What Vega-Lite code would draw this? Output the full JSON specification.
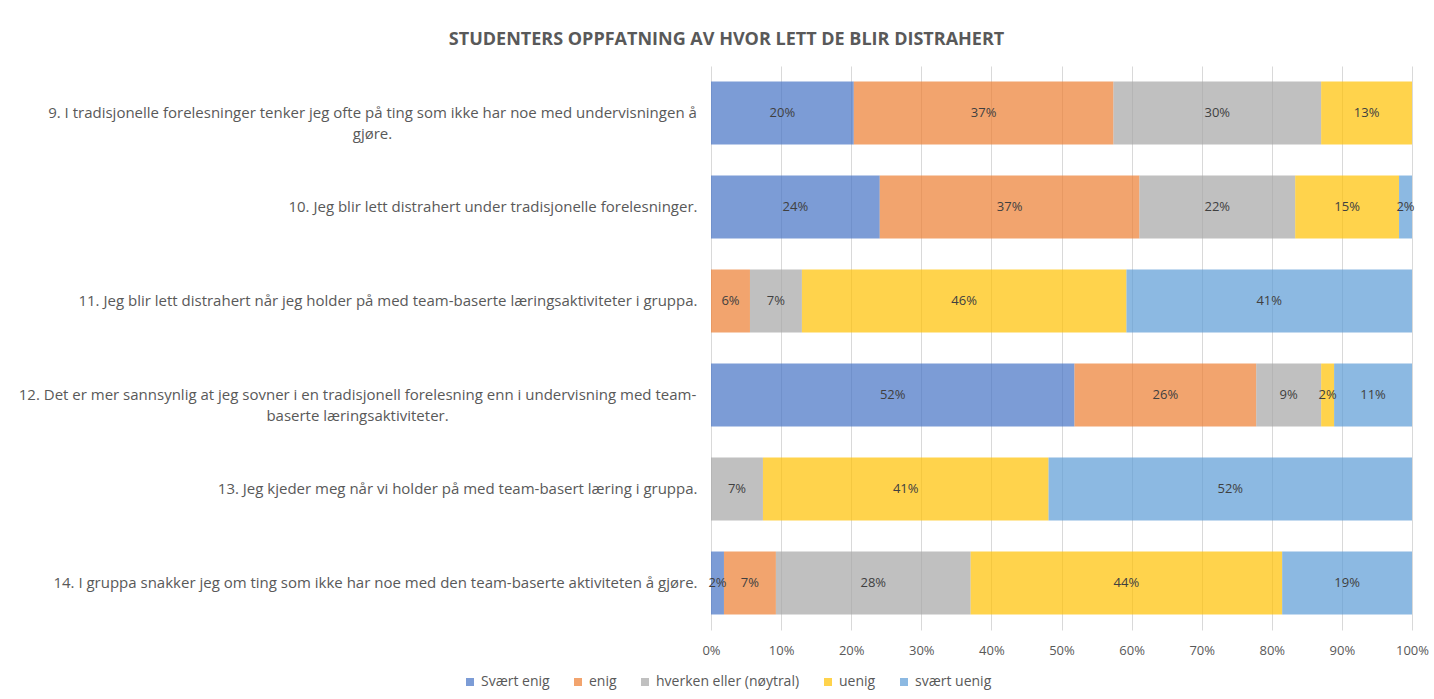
{
  "$schema": "https://vega.github.io/schema/vega-lite/v6.json",
  "autosize": {"type": "none"},
  "padding": {"left": 711, "top": 66, "right": 22, "bottom": 69},
  "width": 701,
  "height": 564,
  "background": "white",
  "title": {
    "text": "STUDENTERS OPPFATNING AV HVOR LETT DE BLIR DISTRAHERT",
    "font": "Open Sans",
    "fontSize": 18,
    "fontWeight": "bold",
    "color": "#595959",
    "anchor": "middle",
    "dx": -335,
    "offset": 17
  },
  "data": {
    "values": [
      {"q": "9. I tradisjonelle forelesninger tenker jeg ofte på ting som ikke har noe med undervisningen å|gjøre.", "cat": "Svært enig", "o": 1, "value": 0.2037},
      {"q": "9. I tradisjonelle forelesninger tenker jeg ofte på ting som ikke har noe med undervisningen å|gjøre.", "cat": "enig", "o": 2, "value": 0.3704},
      {"q": "9. I tradisjonelle forelesninger tenker jeg ofte på ting som ikke har noe med undervisningen å|gjøre.", "cat": "hverken eller (nøytral)", "o": 3, "value": 0.2963},
      {"q": "9. I tradisjonelle forelesninger tenker jeg ofte på ting som ikke har noe med undervisningen å|gjøre.", "cat": "uenig", "o": 4, "value": 0.1296},
      {"q": "10. Jeg blir lett distrahert under tradisjonelle forelesninger.", "cat": "Svært enig", "o": 1, "value": 0.2407},
      {"q": "10. Jeg blir lett distrahert under tradisjonelle forelesninger.", "cat": "enig", "o": 2, "value": 0.3704},
      {"q": "10. Jeg blir lett distrahert under tradisjonelle forelesninger.", "cat": "hverken eller (nøytral)", "o": 3, "value": 0.2222},
      {"q": "10. Jeg blir lett distrahert under tradisjonelle forelesninger.", "cat": "uenig", "o": 4, "value": 0.1481},
      {"q": "10. Jeg blir lett distrahert under tradisjonelle forelesninger.", "cat": "svært uenig", "o": 5, "value": 0.0185},
      {"q": "11. Jeg blir lett distrahert når jeg holder på med team-baserte læringsaktiviteter i gruppa.", "cat": "enig", "o": 2, "value": 0.0556},
      {"q": "11. Jeg blir lett distrahert når jeg holder på med team-baserte læringsaktiviteter i gruppa.", "cat": "hverken eller (nøytral)", "o": 3, "value": 0.0741},
      {"q": "11. Jeg blir lett distrahert når jeg holder på med team-baserte læringsaktiviteter i gruppa.", "cat": "uenig", "o": 4, "value": 0.463},
      {"q": "11. Jeg blir lett distrahert når jeg holder på med team-baserte læringsaktiviteter i gruppa.", "cat": "svært uenig", "o": 5, "value": 0.4074},
      {"q": "12. Det er mer sannsynlig at jeg sovner i en tradisjonell forelesning enn i undervisning med team-|baserte læringsaktiviteter.", "cat": "Svært enig", "o": 1, "value": 0.5185},
      {"q": "12. Det er mer sannsynlig at jeg sovner i en tradisjonell forelesning enn i undervisning med team-|baserte læringsaktiviteter.", "cat": "enig", "o": 2, "value": 0.2593},
      {"q": "12. Det er mer sannsynlig at jeg sovner i en tradisjonell forelesning enn i undervisning med team-|baserte læringsaktiviteter.", "cat": "hverken eller (nøytral)", "o": 3, "value": 0.0926},
      {"q": "12. Det er mer sannsynlig at jeg sovner i en tradisjonell forelesning enn i undervisning med team-|baserte læringsaktiviteter.", "cat": "uenig", "o": 4, "value": 0.0185},
      {"q": "12. Det er mer sannsynlig at jeg sovner i en tradisjonell forelesning enn i undervisning med team-|baserte læringsaktiviteter.", "cat": "svært uenig", "o": 5, "value": 0.1111},
      {"q": "13. Jeg kjeder meg når vi holder på med team-basert læring i gruppa.", "cat": "hverken eller (nøytral)", "o": 3, "value": 0.0741},
      {"q": "13. Jeg kjeder meg når vi holder på med team-basert læring i gruppa.", "cat": "uenig", "o": 4, "value": 0.4074},
      {"q": "13. Jeg kjeder meg når vi holder på med team-basert læring i gruppa.", "cat": "svært uenig", "o": 5, "value": 0.5185},
      {"q": "14. I gruppa snakker jeg om ting som ikke har noe med den team-baserte aktiviteten å gjøre.", "cat": "Svært enig", "o": 1, "value": 0.0185},
      {"q": "14. I gruppa snakker jeg om ting som ikke har noe med den team-baserte aktiviteten å gjøre.", "cat": "enig", "o": 2, "value": 0.0741},
      {"q": "14. I gruppa snakker jeg om ting som ikke har noe med den team-baserte aktiviteten å gjøre.", "cat": "hverken eller (nøytral)", "o": 3, "value": 0.2778},
      {"q": "14. I gruppa snakker jeg om ting som ikke har noe med den team-baserte aktiviteten å gjøre.", "cat": "uenig", "o": 4, "value": 0.4444},
      {"q": "14. I gruppa snakker jeg om ting som ikke har noe med den team-baserte aktiviteten å gjøre.", "cat": "svært uenig", "o": 5, "value": 0.1852}
    ]
  },
  "encoding": {
    "y": {
      "field": "q",
      "type": "nominal",
      "sort": null,
      "title": null,
      "scale": {"paddingInner": 0.33, "paddingOuter": 0.165},
      "axis": {
        "labelExpr": "split(datum.label, '|')",
        "labelFont": "Open Sans",
        "labelFontSize": 15,
        "labelColor": "#595959",
        "labelLimit": 800,
        "labelAlign": {"condition": {"test": "indexof(datum.value, '|') >= 0", "value": "center"}, "value": "right"},
        "labelPadding": {"condition": [{"test": "indexof(datum.value, '9. I') === 0", "value": 339}, {"test": "indexof(datum.value, '12.') === 0", "value": 354}], "value": 14},
        "labelLineHeight": 21,
        "ticks": false,
        "domain": false
      }
    }
  },
  "layer": [
    {
      "mark": {"type": "bar", "opacity": 0.7},
      "encoding": {
        "x": {
          "field": "value",
          "type": "quantitative",
          "stack": "normalize",
          "title": null,
          "scale": {"domain": [0, 1]},
          "axis": {
            "format": ".0%",
            "values": [0, 0.1, 0.2, 0.3, 0.4, 0.5, 0.6, 0.7, 0.8, 0.9, 1],
            "labelOverlap": false,
            "labelFlush": false,
            "labelFont": "Open Sans",
            "labelFontSize": 13,
            "labelColor": "#595959",
            "labelPadding": 14,
            "gridColor": "#D9D9D9",
            "domain": false,
            "ticks": false
          }
        },
        "color": {
          "field": "cat",
          "type": "nominal",
          "title": null,
          "scale": {
            "domain": ["Svært enig", "enig", "hverken eller (nøytral)", "uenig", "svært uenig"],
            "range": ["#4472C4", "#ED7D31", "#A5A5A5", "#FFC000", "#5B9BD5"]
          },
          "legend": {
            "orient": "none",
            "direction": "horizontal",
            "legendX": -248,
            "legendY": 609,
            "symbolType": "square",
            "symbolSize": 64,
            "symbolOpacity": 0.7,
            "symbolStrokeWidth": 0,
            "labelFont": "Open Sans",
            "labelFontSize": 14,
            "labelColor": "#595959",
            "columnPadding": 21,
            "labelOffset": 4
          }
        },
        "order": {"field": "o", "type": "quantitative"}
      }
    },
    {
      "mark": {"type": "text", "font": "Open Sans", "fontSize": 13, "color": "#404040"},
      "encoding": {
        "x": {"field": "value", "type": "quantitative", "stack": "normalize", "bandPosition": 0.5},
        "text": {"field": "value", "type": "quantitative", "format": ".0%"},
        "order": {"field": "o", "type": "quantitative"},
        "detail": {"field": "cat"}
      }
    }
  ],
  "config": {"view": {"stroke": null}}
}
